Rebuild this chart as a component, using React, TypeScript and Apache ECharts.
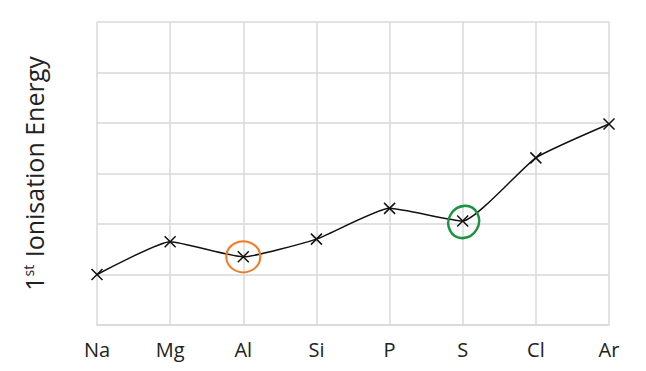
import React, { useEffect, useRef } from "react";
import * as echarts from "echarts";

const elements = ["Na", "Mg", "Al", "Si", "P", "S", "Cl", "Ar"];
const ionisation = [1.0, 1.65, 1.35, 1.7, 2.31, 2.06, 3.31, 3.98];
const yMin = 0;
const yMax = 6;
const yStep = 1;
const circledOrange = ["Al", 1.35];
const circledGreen = ["S", 2.06];

export default function App() {
  const ref = useRef<HTMLDivElement>(null);
  useEffect(() => {
    if (!ref.current) return;
    const chart = echarts.init(ref.current, undefined, { renderer: "svg" });
    const grid = "#d9d9d9";
    chart.setOption({
      animation: false,
      backgroundColor: "#ffffff",
      grid: { left: 97, right: 37, top: 22, bottom: 46 },
      xAxis: {
        type: "category",
        data: elements,
        boundaryGap: false,
        axisLine: { show: true, lineStyle: { color: grid, width: 1.5 } },
        axisTick: { show: false },
        axisLabel: {
          color: "#222",
          fontSize: 20,
          fontFamily: "Open Sans",
          margin: 14,
        },
        splitLine: { show: true, lineStyle: { color: grid, width: 1.5 } },
      },
      yAxis: {
        type: "value",
        min: yMin,
        max: yMax,
        interval: yStep,
        axisLine: { show: false },
        axisTick: { show: false },
        axisLabel: { show: false },
        splitLine: { show: true, lineStyle: { color: grid, width: 1.5 } },
        name: "{a|1}{s|st}{a| Ionisation Energy}",
        nameLocation: "middle",
        nameRotate: 90,
        nameGap: 50,
        nameTextStyle: {
          rich: {
            a: { fontSize: 25, fontFamily: "Open Sans", color: "#222" },
            s: {
              fontSize: 14,
              fontFamily: "Open Sans",
              color: "#222",
              padding: [0, 1, 12, 0],
            },
          },
        },
      },
      series: [
        {
          type: "line",
          data: ionisation,
          smooth: 0.15,
          symbol: "path://M0,0L10,10M10,0L0,10",
          symbolSize: 11,
          itemStyle: { color: "none", borderColor: "#111", borderWidth: 1.5 },
          lineStyle: { color: "#111", width: 1.5 },
          markPoint: {
            silent: true,
            label: { show: false },
            data: [
              {
                coord: circledOrange,
                symbol: "circle",
                symbolSize: [34, 31],
                itemStyle: {
                  color: "none",
                  borderColor: "#f47a22",
                  borderWidth: 2,
                },
              },
              {
                coord: circledGreen,
                symbol: "circle",
                symbolSize: [30, 33],
                symbolRotate: -30,
                symbolOffset: [1, 1],
                itemStyle: {
                  color: "none",
                  borderColor: "#1a9440",
                  borderWidth: 2.5,
                },
              },
            ],
          },
        },
      ],
    });
    return () => chart.dispose();
  }, []);
  return <div ref={ref} style={{ width: 646, height: 371, position: "absolute", left: 0, top: 0 }} />;
}
